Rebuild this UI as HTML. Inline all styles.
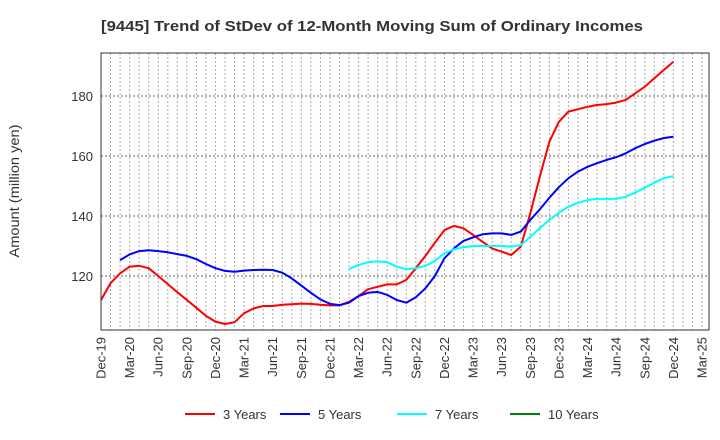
<!DOCTYPE html>
<html><head><meta charset="utf-8"><style>
body{margin:0;background:#fff;}
svg{display:block;font-family:"Liberation Sans",Arial,sans-serif;}
</style></head><body>
<svg id="chart" width="720" height="440" viewBox="0 0 720 440">
<text x="101" y="31" font-size="15" font-weight="bold" fill="#333" textLength="542" lengthAdjust="spacingAndGlyphs">[9445]  Trend of StDev of 12-Month Moving Sum of Ordinary Incomes</text>
<text transform="translate(19,191) rotate(-90)" text-anchor="middle" font-size="14" fill="#333" textLength="133" lengthAdjust="spacingAndGlyphs">Amount (million yen)</text>
<g id="grid"></g>
<g id="yticks"></g>
<g id="xticks"></g>
<g id="series"></g>
<rect x="101" y="53" width="608" height="277" fill="none" stroke="#333" stroke-width="1"/>
<g id="legend"></g>
</svg>
<script>
const xTickLabels=["Dec-19","Mar-20","Jun-20","Sep-20","Dec-20","Mar-21","Jun-21","Sep-21","Dec-21","Mar-22","Jun-22","Sep-22","Dec-22","Mar-23","Jun-23","Sep-23","Dec-23","Mar-24","Jun-24","Sep-24","Dec-24","Mar-25"];
const yTickValues=[120,140,160,180];
const seriesNames=["3 Years","5 Years","7 Years","10 Years"];
const seriesColors=["#ff0000","#0000ff","#00ffff","#008000"];
const startMonth3=0;
const values3=[112,117.6,120.9,123.1,123.4,122.6,120,117.3,114.6,112,109.4,106.7,104.8,104,104.6,107.6,109.2,110,110,110.4,110.6,110.8,110.7,110.4,110.2,110.2,111.4,113.3,115.6,116.4,117.2,117.2,118.7,122.6,126.7,131.1,135.3,136.7,135.9,133.7,131.4,129.2,128.1,127,129.8,140.9,153.1,164.8,171.4,174.8,175.6,176.4,177,177.3,177.8,178.7,180.9,183.1,185.9,188.7,191.4];
const startMonth5=2;
const values5=[125.3,127.2,128.3,128.6,128.3,127.9,127.3,126.7,125.6,124,122.6,121.7,121.4,121.8,122,122.1,122,121.1,119.2,116.8,114.4,112.2,110.7,110.3,111.1,113.3,114.4,114.7,113.7,112,111.1,112.9,115.9,120,125.9,129.2,131.7,132.9,133.9,134.2,134.2,133.7,134.8,138.7,142.2,146.1,149.6,152.6,154.8,156.4,157.6,158.7,159.6,160.9,162.6,164,165.1,166,166.4];
const startMonth7=26;
const values7=[122.3,123.7,124.6,124.9,124.6,123.1,122.3,122.6,123.4,125,127.6,128.9,129.6,130,130,130,130,129.8,130.3,133.1,135.9,138.7,141.1,143.1,144.4,145.3,145.7,145.7,145.7,146.4,147.8,149.4,151.1,152.6,153.3];
const values10=[];

const NS="http://www.w3.org/2000/svg";
const X0=101, MW=9.54, PL=101, PR=709, PT=53, PB=330;
function xScale(m){return X0+m*MW;}
function yScale(v){return 96+(180-v)*3;}
function mk(tag,attrs,parent){const e=document.createElementNS(NS,tag);for(const k in attrs)e.setAttribute(k,attrs[k]);parent.appendChild(e);return e;}

const grid=document.getElementById('grid');
for(let m=1;m<=63;m++){
  const x=xScale(m);
  if(x>=PR) break;
  const l=mk('line',{x1:x,x2:x,y1:PT,y2:PB,stroke:'#aaa','stroke-width':1,'stroke-dasharray':'2,2'},grid);
  
  
}
const yt=document.getElementById('yticks');
yTickValues.forEach(v=>{
  const y=yScale(v);
  const l=mk('line',{x1:PL,x2:PR,y1:y,y2:y,stroke:'#666','stroke-width':1,'stroke-dasharray':'2,2'},grid);
  
  
  const t=mk('text',{x:93,y:y+5,'text-anchor':'end','font-size':13,fill:'#333'},yt);
  t.textContent=v;
  
  
});
const xt=document.getElementById('xticks');
xTickLabels.forEach((lab,i)=>{
  const x=xScale(i*3);
  const t=mk('text',{transform:`translate(${x+4.5},337) rotate(-90)`,'text-anchor':'end','font-size':13,fill:'#333'},xt);
  t.textContent=lab;
  
  
});
const sg=document.getElementById('series');
[[values3,startMonth3,0],[values5,startMonth5,1],[values7,startMonth7,2],[values10,0,3]].forEach(([vals,st,idx])=>{
  if(!vals.length) return;
  const pts=vals.map((v,i)=>xScale(st+i).toFixed(1)+','+yScale(v).toFixed(1)).join(' ');
  const p=mk('polyline',{points:pts,fill:'none',stroke:seriesColors[idx],'stroke-width':2,'stroke-linejoin':'round'},sg);
  
  
});
const lg=document.getElementById('legend');
const lx=[185,280,397,510];
seriesNames.forEach((n,i)=>{
  const g=mk('g',{},lg);
  
  
  mk('line',{x1:lx[i],x2:lx[i]+30,y1:414,y2:414,stroke:seriesColors[i],'stroke-width':2},g);
  const t=mk('text',{x:lx[i]+38,y:419,'font-size':13,fill:'#333'},g);
  t.textContent=n;
});
</script>
</body></html>
